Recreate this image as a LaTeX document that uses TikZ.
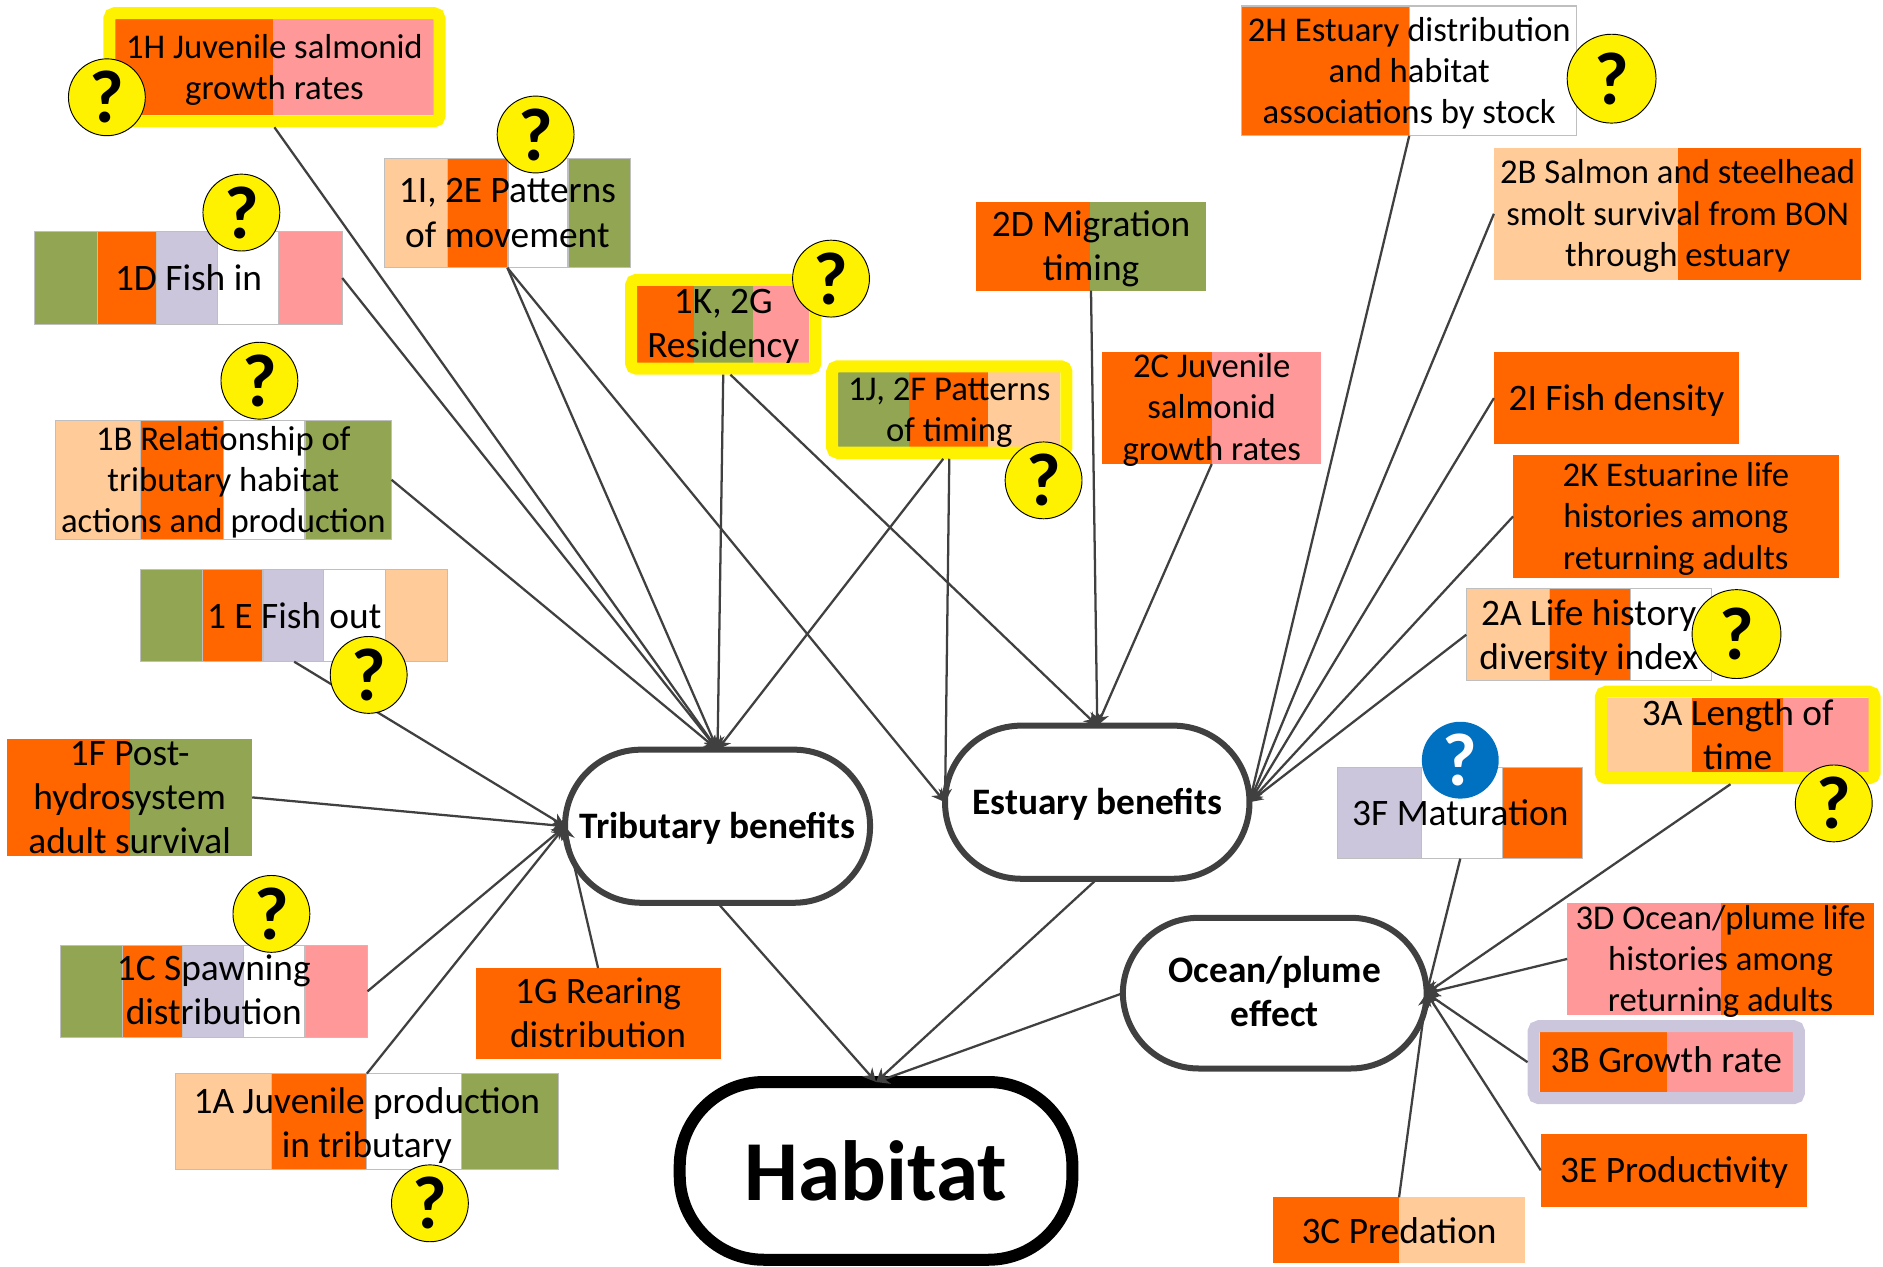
\documentclass[tikz,border=0pt]{standalone}
\usepackage{fontspec}
\setmainfont{Carlito}
\usetikzlibrary{arrows.meta}
\definecolor{org}{HTML}{FF6600}
\definecolor{pnk}{HTML}{FF9999}
\definecolor{pch}{HTML}{FFCC99}
\definecolor{grn}{HTML}{92A553}
\definecolor{lav}{HTML}{CCC6DC}
\definecolor{wht}{HTML}{FFFFFF}
\definecolor{ink}{HTML}{404040}
\definecolor{edgegray}{HTML}{BFBFBF}
\definecolor{qblue}{HTML}{0070C0}
\newcommand{\fs}[2]{\fontsize{#1}{#2}\selectfont}
% one line of text moved down by #1 without changing the node's size
\newcommand{\sh}[2]{\raisebox{-#1}[\height][\depth]{#2}}
% stripes: {style}{y0}{y1}{x0/x1/colour,...}
\newcommand{\stripes}[4]{\foreach \a/\b/\c in {#4} {\path[#1,fill=\c] (\a,#2) rectangle (\b,#3);}}
% label node: {name}{x0}{y0}{x1}{y1}{size}{leading}{style}{text}
\newcommand{\lab}[9]{\node[labelnode,#8,font=\fs{#6}{#7},minimum width={(#4-#2)*0.9pt},minimum height={(#5-#3)*0.9pt}] (#1) at ({(#2+#4)/2},{(#3+#5)/2}) {#9};}
\tikzset{
  labelnode/.style={inner sep=0pt,outer sep=0pt,align=center,text=black},
  edged/.style={draw=edgegray,line width=0.8pt},
  bare/.style={},
  yframe/.style={draw=yellow,line width=9pt,rounded corners=4pt,outer sep=4.5pt},
  lframe/.style={draw=lav,line width=9pt,rounded corners=4pt,outer sep=4.5pt},
  oval/.style={draw=ink,line width=4.5pt,fill=white,rounded corners=57pt,inner sep=0pt,outer sep=0pt,align=center,text=black,font=\fs{28}{33}\bfseries},
  link/.style={draw=ink,line width=1.7pt,-{Stealth[length=10pt,width=10pt]}},
  qbase/.style={circle,inner sep=0pt,minimum size=57.6pt,font=\fs{56}{56}\bfseries},
  qy/.style={qbase,fill=yellow,draw=black,line width=0.7pt,text=black},
  qb/.style={qbase,fill=qblue,text=white}
}
\begin{document}
\begin{tikzpicture}[x=0.9pt,y=-0.9pt]
\useasboundingbox (0,0) rectangle (1568,1055);
% stripes
\stripes{bare}{16}{96}{96/227/org,227/361/pnk}
\stripes{edged}{132}{223}{320/373/pch,373/423/org,423/473/wht,473/525/grn}
\stripes{edged}{193}{270}{29/81/grn,81/130/org,130/181/lav,181/232/wht,232/285/pnk}
\stripes{edged}{350}{449}{46/117/pch,117/186/org,186/254/wht,254/326/grn}
\stripes{edged}{474}{551}{117/169/grn,169/219/org,219/269/lav,269/321/wht,321/373/pch}
\stripes{bare}{615}{713}{6/108/org,108/210/grn}
\stripes{edged}{787}{864}{50/102/grn,102/152/org,152/203/lav,203/254/wht,254/306/pnk}
\stripes{edged}{894}{974}{146/226/pch,226/305/org,305/384/wht,384/465/grn}
\stripes{bare}{806}{882}{396/600/org}
\stripes{bare}{238}{302}{530.5/577.5/org,577.5/627/grn,627/674/pnk}
\stripes{bare}{310}{372}{698/757/grn,757/823/org,823/883/pch}
\stripes{bare}{168}{242}{813/908/org,908/1004/grn}
\stripes{bare}{293}{386}{918/1009/org,1009/1100/pnk}
\stripes{edged}{5}{113}{1034/1174/org,1174/1313/wht}
\stripes{bare}{123}{233}{1244/1397/pch,1397/1550/org}
\stripes{bare}{293}{370}{1244/1448/org}
\stripes{bare}{379}{481}{1260/1531/org}
\stripes{edged}{490}{567}{1221/1290/pch,1290/1358/org,1358/1425/wht}
\stripes{bare}{581}{643}{1338/1409/pch,1409/1485/org,1485/1556/pnk}
\stripes{edged}{639}{715}{1114/1184/lav,1184/1251/wht,1251/1318/org}
\stripes{bare}{752}{845}{1305/1433/pnk,1433/1560.5/org}
\stripes{bare}{859.5}{909.5}{1282/1388/org,1388/1493/pnk}
\stripes{bare}{944}{1005}{1283/1505/org}
\stripes{bare}{997}{1052}{1060/1165/org,1165/1270/pch}
% labels
\lab{nH}{91}{11}{366}{101}{26}{31}{yframe}{\sh{1.8pt}{1H Juvenile salmonid}\\\sh{1.8pt}{growth rates}}
\lab{nI}{320}{132}{525}{223}{28}{34}{bare}{1I, 2E Patterns\\of movement}
\lab{nD}{29}{193}{285}{270}{28}{30}{bare}{1D Fish in}
\lab{nB}{46}{350}{326}{449}{26}{31}{bare}{\sh{1.8pt}{1B Relationship of}\\\sh{1.8pt}{tributary habitat}\\\sh{1.8pt}{actions and production}}
\lab{nE}{117}{474}{373}{551}{28}{30}{bare}{1 E Fish out}
\lab{nF}{6}{615}{210}{713}{28}{33}{bare}{1F Post-\\hydrosystem\\adult survival}
\lab{nC}{50}{787}{306}{864}{28}{33}{bare}{\sh{-0.9pt}{1C Spawning}\\\sh{-0.9pt}{distribution}}
\lab{nA}{146}{894}{465}{974}{28}{33}{bare}{\sh{2.7pt}{1A Juvenile production}\\\sh{2.7pt}{in tributary}}
\lab{nG}{396}{806}{600}{882}{28}{33}{bare}{\sh{-0.4pt}{1G Rearing}\\\sh{-0.4pt}{distribution}}
\lab{nK}{525.5}{233}{679}{307}{28}{33}{yframe}{\sh{1.8pt}{1K, 2G}\\\sh{1.8pt}{Residency}}
\lab{nJ}{693}{305}{888}{377}{26}{31}{yframe}{\sh{2.2pt}{1J, 2F Patterns}\\\sh{2.2pt}{of timing}}
\lab{tD}{813}{168}{1004}{242}{28}{33}{bare}{\sh{2.2pt}{2D Migration}\\\sh{2.2pt}{timing}}
\lab{tC}{918}{293}{1100}{386}{26}{31}{bare}{\sh{1.4pt}{2C Juvenile}\\\sh{1.4pt}{salmonid}\\\sh{1.4pt}{growth rates}}
\lab{tH}{1034}{5}{1313}{113}{26}{31}{bare}{\sh{1.8pt}{2H Estuary distribution}\\\sh{1.8pt}{and habitat}\\\sh{1.8pt}{associations by stock}}
\lab{tB}{1244}{123}{1550}{233}{26}{31}{bare}{\sh{1.8pt}{2B Salmon and steelhead}\\\sh{1.8pt}{smolt survival from BON}\\\sh{1.8pt}{through estuary}}
\lab{tI}{1244}{293}{1448}{370}{28}{30}{bare}{\sh{1.8pt}{2I Fish density}}
\lab{tK}{1260}{379}{1531}{481}{26}{31}{bare}{\sh{1.8pt}{2K Estuarine life}\\\sh{1.8pt}{histories among}\\\sh{1.8pt}{returning adults}}
\lab{tA}{1221}{490}{1425}{567}{28}{33}{bare}{\sh{1.8pt}{2A Life history}\\\sh{1.8pt}{diversity index}}
\lab{oA}{1333}{576}{1561}{648}{28}{33}{yframe}{3A Length of\\time}
\lab{oF}{1114}{639}{1318}{715}{28}{30}{bare}{3F Maturation}
\lab{oD}{1305}{752}{1560.5}{845}{26}{31}{bare}{\sh{1.8pt}{3D Ocean/plume life}\\\sh{1.8pt}{histories among}\\\sh{1.8pt}{returning adults}}
\lab{oB}{1277}{854.5}{1498}{914.5}{28}{30}{lframe}{\sh{-1.8pt}{3B Growth rate}}
\lab{oE}{1283}{944}{1505}{1005}{28}{30}{bare}{\sh{1.8pt}{3E Productivity}}
\lab{oC}{1060}{997}{1270}{1052}{28}{30}{bare}{3C Predation}
% ovals
\node[oval,minimum width=254*0.9pt,minimum height=127.5*0.9pt] (trib) at (597.5,688) {\sh{1.8pt}{Tributary benefits}};
\node[oval,minimum width=253.5*0.9pt,minimum height=127.5*0.9pt] (est) at (913.7,668) {\sh{1.8pt}{Estuary benefits}};
\node[oval,minimum width=253*0.9pt,minimum height=125.5*0.9pt] (ocean) at (1061.5,827) {\sh{-0.9pt}{Ocean/plume}\\\sh{-0.9pt}{effect}};
\node[oval,draw=black,line width=9pt,rounded corners=63pt,minimum width=327*0.9pt,minimum height=148*0.9pt,font=\fs{64}{70}\bfseries] (hab) at (729.5,975) {Habitat};
% connectors
\draw[link] (nH.south) -- (trib.north);
\draw[link] (nD.east) -- (trib.north);
\draw[link] (nB.east) -- (trib.north);
\draw[link] (nI.south) -- (trib.north);
\draw[link] (nK.south) -- (trib.north);
\draw[link] ([xshift=-4.5pt]nJ.south) -- (trib.north);
\draw[link] (nE.south) -- (trib.west);
\draw[link] (nF.east) -- (trib.west);
\draw[link] (nC.east) -- (trib.west);
\draw[link] (nA.north) -- (trib.west);
\draw[link] (nG.north) -- (trib.west);
\draw[link] (nI.south) -- (est.west);
\draw[link] (nJ.south) -- (est.west);
\draw[link] ([xshift=5.4pt]nK.south) -- (est.north);
\draw[link] (tD.south) -- (est.north);
\draw[link] (tC.south) -- (est.north);
\draw[link] (tH.south) -- (est.east);
\draw[link] (tB.west) -- (est.east);
\draw[link] (tI.west) -- (est.east);
\draw[link] (tK.west) -- (est.east);
\draw[link] (tA.west) -- (est.east);
\draw[link] (oF.south) -- (ocean.east);
\draw[link] ([xshift=-5.4pt]oA.south) -- (ocean.east);
\draw[link] (oD.west) -- (ocean.east);
\draw[link] (oB.west) -- (ocean.east);
\draw[link] (oE.west) -- (ocean.east);
\draw[link] (oC.north) -- (ocean.east);
\draw[link] (trib.south) -- (hab.north);
\draw[link] (est.south) -- (hab.north);
\draw[link] (ocean.west) -- (hab.north);
% question marks
\node[qy] (qH) at (89,81) {?};
\node[qy] (qI) at (446,112) {?};
\node[qy] (qD) at (201,177) {?};
\node[qy] (qB) at (216,317) {?};
\node[qy] (qK) at (692,232) {?};
\node[qy] (qJ) at (869,400) {?};
\node[qy] (qE) at (307,562) {?};
\node[qy] (qC) at (226,761) {?};
\node[qy] (qA) at (358,1002) {?};
\node[qy,minimum size=66.6pt] (q2H) at (1342,65.5) {?};
\node[qy,minimum size=66.6pt] (q2A) at (1446,528) {?};
\node[qy] (q3A) at (1527,669) {?};
\node[qb] (q3F) at (1216,633) {?};
\end{tikzpicture}
\end{document}
